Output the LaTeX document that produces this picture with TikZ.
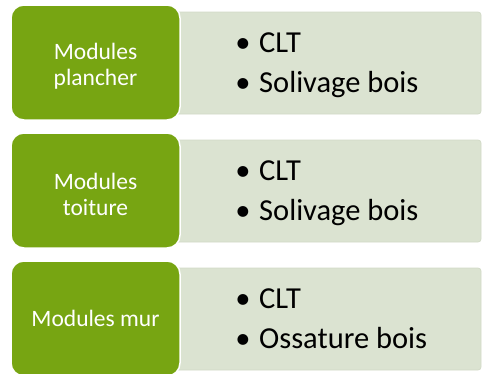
\documentclass[tikz,border=0pt]{standalone}
\usepackage{fontspec}
\setmainfont{Carlito}
\definecolor{modgreen}{HTML}{77A512}
\definecolor{lightbg}{HTML}{DBE3D1}
\definecolor{lightedge}{HTML}{D2DAC7}
\begin{document}
\begin{tikzpicture}[x=1pt,y=-1pt,
  catbox/.style={fill=modgreen,draw=white,line width=1.5pt,rounded corners=13pt},
  listbox/.style={fill=lightbg,draw=lightedge,line width=0.8pt,rounded corners=3pt},
  cattext/.style={text=white,align=center,font=\fontsize{23.5}{26}\selectfont,inner sep=0pt},
  itemtext/.style={anchor=base west,inner sep=0pt,font=\fontsize{30.5}{34}\selectfont,text=black},
  bul/.style={anchor=base,inner sep=0pt,font=\fontsize{30.5}{34}\selectfont,text=black}]
\useasboundingbox (0,0) rectangle (482,373);
\begin{scope}
\clip (0,0) rectangle (482,373);
% row 1
\path[listbox] (160,12) rectangle (481,114);
\path[catbox] (11,5) rectangle (180,120);
\node[cattext] (c1) at (95.5,66) {Modules\\plancher};
\node[bul] (b1a) at (243,52) {•};
\node[itemtext] (t1a) at (259,52) {CLT};
\node[bul] (b1b) at (243,92) {•};
\node[itemtext] (t1b) at (259,92) {Solivage bois};
% row 2
\path[listbox] (160,140) rectangle (481,242);
\path[catbox] (11,133) rectangle (180,248);
\node[cattext] (c2) at (95.5,194) {Modules\\toiture};
\node[bul] (b2a) at (243,180) {•};
\node[itemtext] (t2a) at (259,180) {CLT};
\node[bul] (b2b) at (243,220) {•};
\node[itemtext] (t2b) at (259,220) {Solivage bois};
% row 3
\path[listbox] (160,268) rectangle (481,370);
\path[catbox] (11,261) rectangle (180,376);
\node[cattext] (c3) at (95.5,318.5) {Modules mur};
\node[bul] (b3a) at (243,308) {•};
\node[itemtext] (t3a) at (259,308) {CLT};
\node[bul] (b3b) at (243,348) {•};
\node[itemtext] (t3b) at (259,348) {Ossature bois};
\end{scope}
\end{tikzpicture}
\end{document}
